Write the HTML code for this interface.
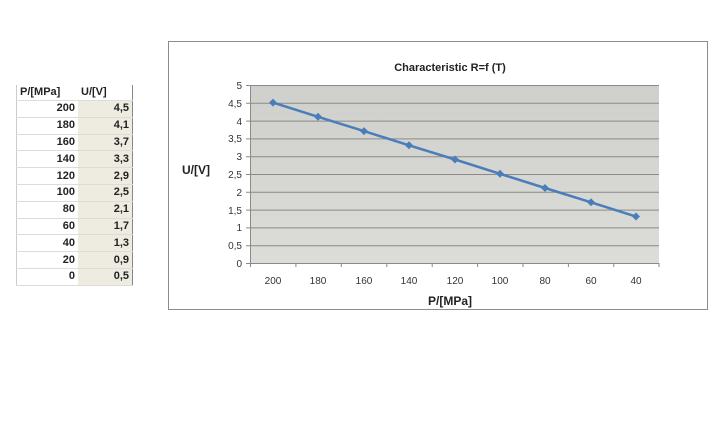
<!DOCTYPE html>
<html><head><style>
body{margin:0;width:716px;height:437px;background:#fff;font-family:"Liberation Sans",sans-serif;position:relative;overflow:hidden}
table{position:absolute;left:16px;top:85px;border-collapse:collapse;font-size:11px;font-weight:bold;color:#222}
td{height:15.8px;padding:0 3px;border-bottom:1px solid #dcdcdc;line-height:15px}
td.a{width:55px;text-align:right;background:#fff}
td.b{width:48px;text-align:right;background:#eeece1}
tr.h td{text-align:left;background:#fff;height:14px}
</style></head><body>
<table style="border-right:1px solid #888;border-bottom:1px solid #888;border-left:1px solid #ccc">
<tr class="h"><td class="a" style="text-align:left">P/[MPa]</td><td class="b" style="background:#fff;text-align:left">U/[V]</td></tr>
<tr><td class="a">200</td><td class="b">4,5</td></tr>
<tr><td class="a">180</td><td class="b">4,1</td></tr>
<tr><td class="a">160</td><td class="b">3,7</td></tr>
<tr><td class="a">140</td><td class="b">3,3</td></tr>
<tr><td class="a">120</td><td class="b">2,9</td></tr>
<tr><td class="a">100</td><td class="b">2,5</td></tr>
<tr><td class="a">80</td><td class="b">2,1</td></tr>
<tr><td class="a">60</td><td class="b">1,7</td></tr>
<tr><td class="a">40</td><td class="b">1,3</td></tr>
<tr><td class="a">20</td><td class="b">0,9</td></tr>
<tr><td class="a">0</td><td class="b">0,5</td></tr>
</table>
<svg style="position:absolute;left:0;top:0" width="716" height="437">
<defs><linearGradient id="g" x1="0" y1="0" x2="0" y2="1"><stop offset="0" stop-color="#cfcfcb"/><stop offset="1" stop-color="#dcdcd8"/></linearGradient></defs>
<rect x="168.5" y="41.5" width="539" height="268" fill="#fff" stroke="#8c8c8c"/>
<rect x="250" y="85" width="409" height="178" fill="url(#g)"/>
<g stroke="#8a8a8a" stroke-width="1">
<line x1="246" y1="85.5" x2="659" y2="85.5"/><line x1="246" y1="103.3" x2="659" y2="103.3"/><line x1="246" y1="121.1" x2="659" y2="121.1"/><line x1="246" y1="138.9" x2="659" y2="138.9"/><line x1="246" y1="156.7" x2="659" y2="156.7"/><line x1="246" y1="174.5" x2="659" y2="174.5"/><line x1="246" y1="192.3" x2="659" y2="192.3"/><line x1="246" y1="210.1" x2="659" y2="210.1"/><line x1="246" y1="227.9" x2="659" y2="227.9"/><line x1="246" y1="245.7" x2="659" y2="245.7"/><line x1="246" y1="263.5" x2="659" y2="263.5"/>
<line x1="250.5" y1="85" x2="250.5" y2="267"/>
<line x1="295.9" y1="263" x2="295.9" y2="267"/><line x1="341.3" y1="263" x2="341.3" y2="267"/><line x1="386.8" y1="263" x2="386.8" y2="267"/><line x1="432.2" y1="263" x2="432.2" y2="267"/><line x1="477.6" y1="263" x2="477.6" y2="267"/><line x1="523" y1="263" x2="523" y2="267"/><line x1="568.4" y1="263" x2="568.4" y2="267"/><line x1="613.8" y1="263" x2="613.8" y2="267"/><line x1="659" y1="263" x2="659" y2="267"/>
</g>
<g font-size="10" fill="#333" text-anchor="end">
<text x="242" y="89">5</text><text x="242" y="107">4,5</text><text x="242" y="125">4</text><text x="242" y="142">3,5</text><text x="242" y="160">3</text><text x="242" y="178">2,5</text><text x="242" y="196">2</text><text x="242" y="214">1,5</text><text x="242" y="231">1</text><text x="242" y="249">0,5</text><text x="242" y="267">0</text>
</g>
<g font-size="10" fill="#333" text-anchor="middle">
<text x="273" y="284">200</text><text x="318" y="284">180</text><text x="364" y="284">160</text><text x="409" y="284">140</text><text x="455" y="284">120</text><text x="500" y="284">100</text><text x="545" y="284">80</text><text x="591" y="284">60</text><text x="636" y="284">40</text>
</g>
<text x="450" y="71" font-size="11" font-weight="bold" text-anchor="middle" fill="#222">Characteristic R=f (T)</text>
<text x="450" y="305" font-size="12" font-weight="bold" text-anchor="middle" fill="#222">P/[MPa]</text>
<text x="182" y="174" font-size="12" font-weight="bold" fill="#222">U/[V]</text>
<polyline fill="none" stroke="#4a7ebb" stroke-width="2.5" points="273,102.6 318,116.8 364,131.1 409,145.3 455,159.5 500,173.8 545,188 591,202.3 636,216.5"/>
<g fill="#4a7ebb">
<path d="M273,98.6l4,4l-4,4l-4,-4z"/><path d="M318,112.8l4,4l-4,4l-4,-4z"/><path d="M364,127.1l4,4l-4,4l-4,-4z"/><path d="M409,141.3l4,4l-4,4l-4,-4z"/><path d="M455,155.5l4,4l-4,4l-4,-4z"/><path d="M500,169.8l4,4l-4,4l-4,-4z"/><path d="M545,184l4,4l-4,4l-4,-4z"/><path d="M591,198.3l4,4l-4,4l-4,-4z"/><path d="M636,212.5l4,4l-4,4l-4,-4z"/>
</g>
</svg>
</body></html>
